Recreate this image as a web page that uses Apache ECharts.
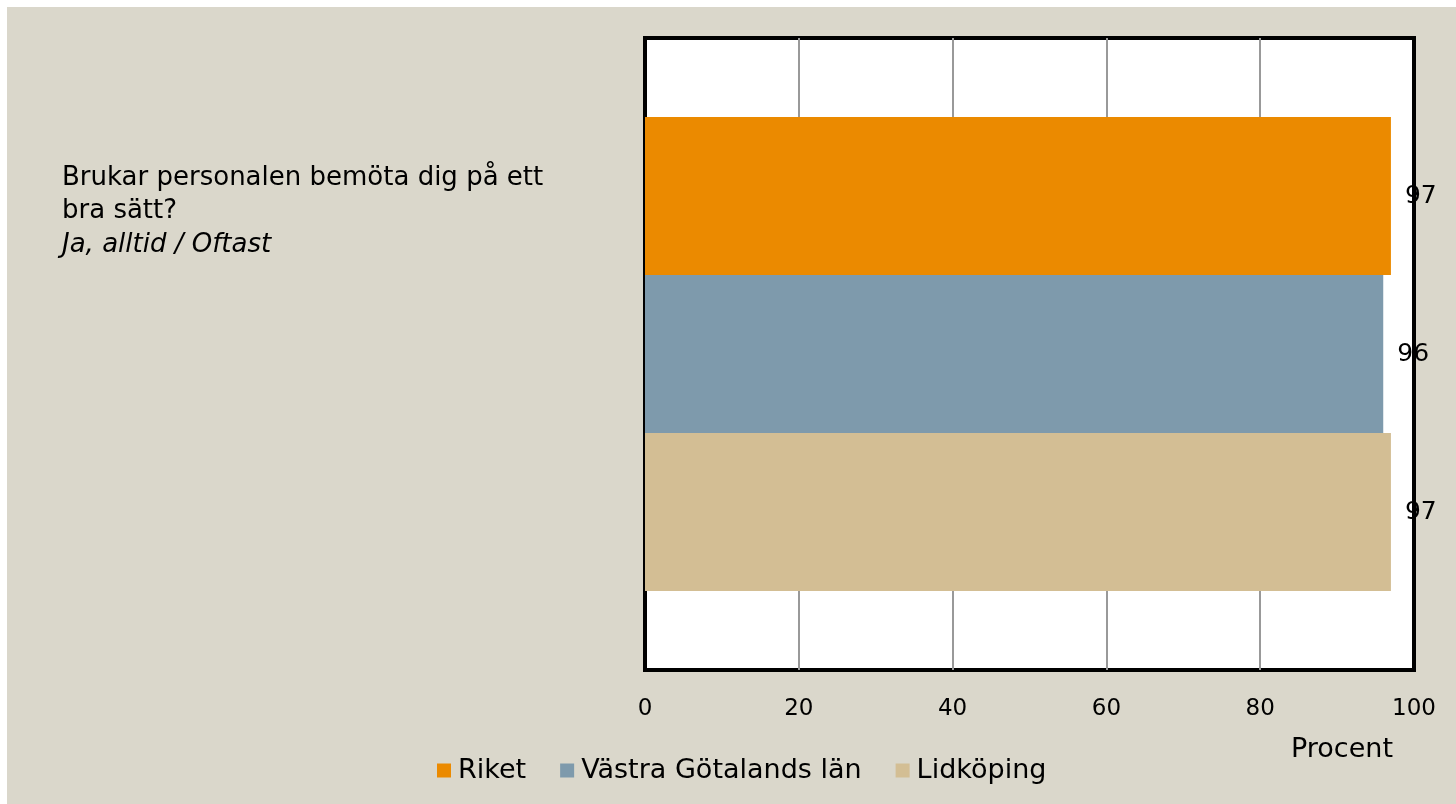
<!DOCTYPE html>
<html>
<head>
<meta charset="utf-8">
<script src="https://cdn.jsdelivr.net/npm/echarts@6/dist/echarts.min.js"></script>
<style>
  html, body { margin: 0; padding: 0; background: #fff; }
  #chart { position: absolute; left: 7px; top: 7px; width: 1449px; height: 797px; }
</style>
</head>
<body>
<div id="chart"></div>
<script>
// question + answer text
const question = 'Brukar personalen bemöta dig på ett\nbra sätt?';
const answer = 'Ja, alltid / Oftast';
const categories = [''];
const seriesNames = ['Riket', 'Västra Götalands län', 'Lidköping'];
const seriesValues = [97, 96, 97];
const seriesColors = ['#EB8A00', '#7E9AAC', '#D3BE94'];
const xTicks = [0, 100, 20];   // min, max, interval
const xName = 'Procent';

const font = 'DejaVu Sans';
const myChart = echarts.init(document.getElementById('chart'));

const series = seriesNames.map((name, i) => ({
    name: name,
    type: 'bar',
    data: [seriesValues[i]],
    itemStyle: { color: seriesColors[i] },
    barGap: 0,
    barCategoryGap: '25%',
    label: {
        show: true,
        position: 'right',
        distance: 14,
        color: '#000',
        fontFamily: font,
        fontSize: 25
    }
}));

const option = {
    backgroundColor: '#DAD7CB',
    animation: false,
    title: [{
        text: question,
        subtext: answer,
        left: 55,
        top: 155,
        padding: 0,
        itemGap: 1,
        textStyle: {
            color: '#000', fontFamily: font, fontWeight: 'normal',
            fontSize: 26, lineHeight: 33
        },
        subtextStyle: {
            color: '#000', fontFamily: font, fontStyle: 'italic',
            fontSize: 26, lineHeight: 33
        }
    }, {
        text: xName,
        left: 1284,
        top: 729,
        padding: 0,
        textStyle: { color: '#000', fontFamily: font, fontWeight: 'normal', fontSize: 27 }
    }],
    legend: {
        data: seriesNames,
        left: 430,
        top: 750,
        padding: 0,
        icon: 'rect',
        itemWidth: 14,
        itemHeight: 14,
        itemGap: 34,
        textStyle: { color: '#000', fontFamily: font, fontSize: 27, padding: [0, 0, 0, 2] }
    },
    grid: {
        left: 638,
        right: 42,
        top: 31,
        bottom: 134,
        show: true,
        backgroundColor: '#fff',
        borderColor: '#000',
        borderWidth: 4,
        z: 0
    },
    xAxis: {
        type: 'value',
        min: xTicks[0],
        max: xTicks[1],
        interval: xTicks[2],
        axisLine: { show: false },
        axisTick: { show: false },
        axisLabel: { color: '#000', fontFamily: font, fontSize: 23, margin: 28 },
        splitLine: {
            show: true,
            lineStyle: {
                color: ['transparent', '#999', '#999', '#999', '#999', 'transparent'],
                width: 2
            }
        }
    },
    yAxis: {
        type: 'category',
        data: categories,
        inverse: true,
        axisLine: { show: false },
        axisTick: { show: false },
        axisLabel: { show: false }
    },
    series: series
};
myChart.setOption(option);
</script>
</body>
</html>
